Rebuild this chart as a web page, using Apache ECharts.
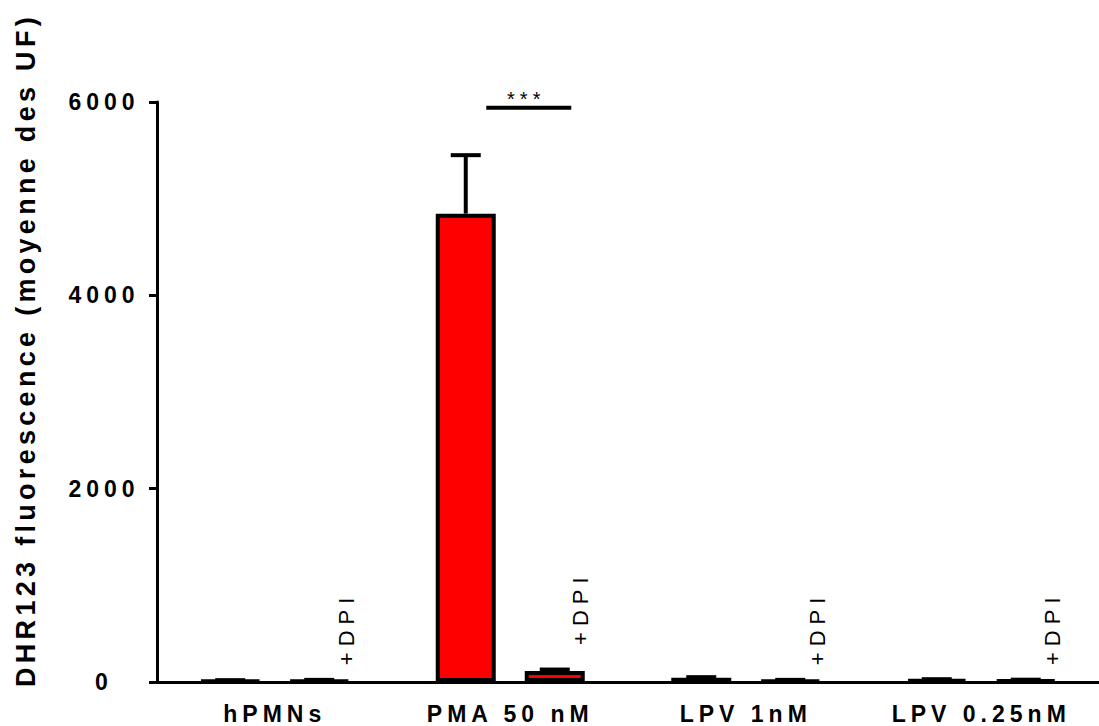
<!DOCTYPE html>
<html>
<head>
<meta charset="utf-8">
<script src="https://cdn.jsdelivr.net/npm/echarts@6/dist/echarts.min.js"></script>
<style>
html,body{margin:0;padding:0;background:#fff;}
#chart{width:1099px;height:726px;}
#chart text{letter-spacing:5px;}
#chart text[style*="27px"]{letter-spacing:4.3px;}
#chart text[style*="22px"]{letter-spacing:6px;}
</style>
</head>
<body>
<div id="chart"></div>
<script>
// ---- data ----
const categories = ['hPMNs', 'PMA 50 nM', 'LPV 1nM', 'LPV 0.25nM'];
const controlValues = [15, 4845, 45, 25];
const controlErrors = [4, 605, 5, 4];
const dpiValues = [18, 115, 18, 20];
const dpiErrors = [4, 14, 4, 4];
const barColors = ['#ffffff', '#ff0000', '#ffffff', '#ffffff'];
const dpiLabel = '+DPI';
const yTicks = [0, 2000, 4000, 6000];
const yTitle = 'DHR123 fluorescence (moyenne des UF)';
const sigCategory = 'PMA 50 nM';
const sigValue = 5940;
const sigText = '***';

// ---- styles ----
const FONT = '"Liberation Sans", Arial, sans-serif';
const BAR_W = 60;
const BAR_GAP = 29;
const HALF = (BAR_W + BAR_GAP) / 2;

function errorSeries(vals, errs, offset) {
  return {
    type: 'custom',
    silent: true,
    z: 3,
    encode: { x: 0, y: [1, 2] },
    data: vals.map((v, i) => [i, v, v + errs[i]]),
    renderItem(params, api) {
      const base = api.coord([api.value(0), api.value(1)]);
      const top = api.coord([api.value(0), api.value(2)]);
      const x = base[0] + offset;
      return {
        type: 'group',
        children: [
          { type: 'line', shape: { x1: x, y1: base[1], x2: x, y2: top[1] }, style: { stroke: '#000', lineWidth: 4 } },
          { type: 'line', shape: { x1: x - 15, y1: top[1], x2: x + 15, y2: top[1] }, style: { stroke: '#000', lineWidth: 4 } }
        ]
      };
    }
  };
}

const dpiData = dpiValues.map((v, i) => {
  if (dpiErrors[i] > 10) {
    return { value: v, label: { position: ['93%', -26] } };
  }
  return v;
});

const chart = echarts.init(document.getElementById('chart'), null, { renderer: 'svg' });
chart.setOption({
  animation: false,
  backgroundColor: '#fff',
  grid: { left: 157, top: 102, bottom: 44, width: 947 },
  xAxis: {
    type: 'category',
    data: categories,
    axisLine: { lineStyle: { color: '#000', width: 3 } },
    axisTick: { alignWithLabel: true, length: 8, lineStyle: { color: '#000', width: 3 } },
    axisLabel: { color: '#000', fontSize: 23, fontWeight: 'bold', fontFamily: FONT, margin: 20 }
  },
  yAxis: {
    type: 'value',
    min: yTicks[0],
    max: yTicks[yTicks.length - 1],
    interval: yTicks[1] - yTicks[0],
    splitLine: { show: false },
    axisLine: { show: true, lineStyle: { color: '#000', width: 3 } },
    axisTick: { show: true, length: 8, lineStyle: { color: '#000', width: 3 } },
    axisLabel: {
      color: '#000', fontSize: 23, fontWeight: 'bold', fontFamily: FONT,
      margin: 53, align: 'center',
      formatter: v => String(v)
    },
    name: yTitle,
    nameLocation: 'middle',
    nameGap: 118,
    nameTextStyle: { color: '#000', fontSize: 27, fontWeight: 'bold', fontFamily: FONT, padding: [0, 0, 0, 84] }
  },
  series: [
    {
      type: 'bar',
      data: controlValues,
      barWidth: BAR_W,
      barGap: (BAR_GAP / BAR_W * 100) + '%',
      z: 2,
      itemStyle: { color: p => barColors[p.dataIndex], borderColor: '#000', borderWidth: 4 }
    },
    {
      type: 'bar',
      data: dpiData,
      barWidth: BAR_W,
      z: 2,
      itemStyle: { color: p => barColors[p.dataIndex], borderColor: '#000', borderWidth: 4 },
      label: {
        show: true,
        formatter: dpiLabel,
        position: ['93%', -14],
        rotate: 90,
        align: 'left',
        verticalAlign: 'middle',
        fontSize: 22,
        fontFamily: FONT,
        color: '#000'
      }
    },
    errorSeries(controlValues, controlErrors, -HALF),
    errorSeries(dpiValues, dpiErrors, HALF),
    {
      type: 'custom',
      silent: true,
      z: 4,
      encode: { x: 0, y: 1 },
      data: [[categories.indexOf(sigCategory), sigValue]],
      renderItem(params, api) {
        const p = api.coord([api.value(0), api.value(1)]);
        return {
          type: 'group',
          children: [
            { type: 'line', shape: { x1: p[0] - 24, y1: p[1], x2: p[0] + 61, y2: p[1] }, style: { stroke: '#000', lineWidth: 4 } },
            { type: 'text', style: { text: sigText, x: p[0] + 16, y: p[1] + 1, align: 'center', verticalAlign: 'bottom', font: '20px ' + FONT, fill: '#000' } }
          ]
        };
      }
    }
  ]
});
</script>
</body>
</html>
